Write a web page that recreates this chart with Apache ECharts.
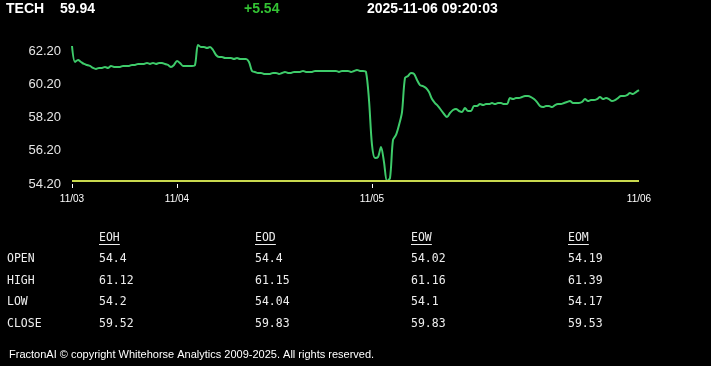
<!DOCTYPE html>
<html>
<head>
<meta charset="utf-8">
<script src="https://cdn.jsdelivr.net/npm/echarts@6/dist/echarts.min.js"></script>
<style>
html,body{margin:0;padding:0;background:#000;}
#c{width:711px;height:366px;}
</style>
</head>
<body>
<div id="c"></div>
<script>
// ---- data ----
var symbol = 'TECH';
var lastPrice = '59.94';
var change = '+5.54';
var timestamp = '2025-11-06 09:20:03';
var openLevel = 54.4;

var yTicks = [54.2, 56.2, 58.2, 60.2, 62.2];
var dayTickIdx = [0, 35, 100, 189];
var dayLabels = ['11/03', '11/04', '11/05', '11/06'];

var prices = [
62.50,61.54,61.66,61.54,61.42,61.36,61.30,61.18,61.12,61.18,
61.18,61.24,61.18,61.30,61.24,61.24,61.24,61.30,61.30,61.30,
61.36,61.36,61.42,61.42,61.42,61.48,61.42,61.48,61.42,61.48,
61.48,61.42,61.36,61.24,61.36,61.60,61.48,61.30,61.30,61.30,
61.30,61.36,62.56,62.44,62.44,62.38,62.44,62.26,61.96,61.84,
61.84,61.78,61.78,61.78,61.72,61.78,61.72,61.72,61.72,61.54,
61.00,60.94,60.88,60.88,60.82,60.82,60.82,60.88,60.88,60.82,
60.88,60.94,60.88,60.88,60.94,60.94,60.94,61.00,60.94,60.94,
60.94,61.00,61.00,61.00,61.00,61.00,61.00,61.00,61.00,60.94,
61.00,61.00,61.00,60.94,61.00,61.06,61.00,61.00,60.94,59.25,
56.55,55.76,55.82,56.43,55.52,54.38,54.56,56.85,57.15,57.75,
58.53,60.58,60.70,60.88,60.82,60.46,60.15,60.09,59.97,59.73,
59.31,59.07,58.89,58.65,58.41,58.23,58.47,58.65,58.71,58.59,
58.53,58.77,58.59,58.59,58.89,58.89,59.01,58.95,59.01,59.01,
59.07,59.01,59.07,59.07,59.01,59.01,59.37,59.31,59.37,59.37,
59.43,59.49,59.49,59.43,59.31,59.13,58.89,58.83,58.89,58.89,
58.83,58.95,59.01,59.01,59.07,59.13,59.19,59.07,59.07,59.07,
59.13,59.31,59.19,59.25,59.25,59.31,59.43,59.31,59.37,59.31,
59.19,59.25,59.37,59.49,59.49,59.55,59.67,59.61,59.73,59.85
];

var tableCols = ['EOH', 'EOD', 'EOW', 'EOM'];
var tableRows = ['OPEN', 'HIGH', 'LOW', 'CLOSE'];
var eohVals = ['54.4', '61.12', '54.2', '59.52'];
var eodVals = ['54.4', '61.15', '54.04', '59.83'];
var eowVals = ['54.02', '61.16', '54.1', '59.83'];
var eomVals = ['54.19', '61.39', '54.17', '59.53'];
var footer = 'FractonAI \u00a9 copyright Whitehorse Analytics 2009-2025. All rights reserved.';

// ---- chart ----
var chart = echarts.init(document.getElementById('c'), null, {renderer: 'canvas'});
var seriesData = prices.map(function (v, i) { return [i, v]; });
var colVals = [eohVals, eodVals, eowVals, eomVals];
var colX = [99, 255, 411, 568];
var rowY = [259, 281, 302, 324];
var mono = '"DejaVu Sans Mono", monospace';

var graphics = [];
var hdrFont = 'bold 14px "Liberation Sans", Arial, sans-serif';
graphics.push({type: 'text', left: 6, top: 2, style: {text: symbol, fill: '#fff', font: hdrFont}});
graphics.push({type: 'text', left: 60, top: 2, style: {text: lastPrice, fill: '#fff', font: hdrFont}});
graphics.push({type: 'text', left: 244, top: 2, style: {text: change, fill: '#33c233', font: hdrFont}});
graphics.push({type: 'text', left: 367, top: 2, style: {text: timestamp, fill: '#fff', font: hdrFont}});

tableCols.forEach(function (c, j) {
  graphics.push({type: 'text', x: colX[j], y: 238, style: {text: c, fill: '#eee', font: '11.5px ' + mono, textVerticalAlign: 'middle'}});
  graphics.push({type: 'line', shape: {x1: colX[j], y1: 244.5, x2: colX[j] + c.length * 6.95, y2: 244.5}, style: {stroke: '#eee', lineWidth: 1}});
});
tableRows.forEach(function (r, i) {
  graphics.push({type: 'text', x: 7, y: rowY[i], style: {text: r, fill: '#eee', font: '11.5px ' + mono, textVerticalAlign: 'middle'}});
  colVals.forEach(function (vals, j) {
    graphics.push({type: 'text', x: colX[j], y: rowY[i], style: {text: vals[i], fill: '#eee', font: '11.5px ' + mono, textVerticalAlign: 'middle'}});
  });
});
graphics.push({type: 'text', x: 9, y: 355, style: {text: footer, fill: '#fff', font: '11px "Liberation Sans", Arial, sans-serif', textVerticalAlign: 'middle'}});

chart.setOption({
  backgroundColor: '#000',
  animation: false,
  grid: {left: 72, right: 72, top: 44.35, bottom: 182},
  xAxis: {
    type: 'value', min: 0, max: prices.length - 1,
    axisLine: {show: false},
    splitLine: {show: false},
    axisTick: {show: true, customValues: dayTickIdx.slice(0, 3), length: 4, lineStyle: {color: '#fff', width: 1}},
    axisLabel: {
      customValues: dayTickIdx, color: '#fff', fontSize: 10, margin: 10,
      fontFamily: '"Liberation Sans", Arial, sans-serif',
      formatter: function (v) { var k = dayTickIdx.indexOf(v); return k >= 0 ? dayLabels[k] : ''; }
    }
  },
  yAxis: {
    type: 'value', min: yTicks[0], max: 62.6, interval: 2,
    axisLine: {show: false}, axisTick: {show: false}, splitLine: {show: false},
    axisLabel: {
      color: '#e6e6e6', fontSize: 13, margin: 11, showMaxLabel: false,
      fontFamily: '"Liberation Sans", Arial, sans-serif',
      formatter: function (v) { return v.toFixed(2); }
    }
  },
  series: [{
    type: 'line', data: seriesData, showSymbol: false, smooth: 0.3,
    lineStyle: {color: '#3ecb6a', width: 2},
    markLine: {
      silent: true, symbol: 'none', label: {show: false},
      lineStyle: {color: '#c9d94e', width: 2, type: 'solid'},
      data: [{yAxis: openLevel}]
    }
  }],
  graphic: graphics
});
</script>
</body>
</html>
